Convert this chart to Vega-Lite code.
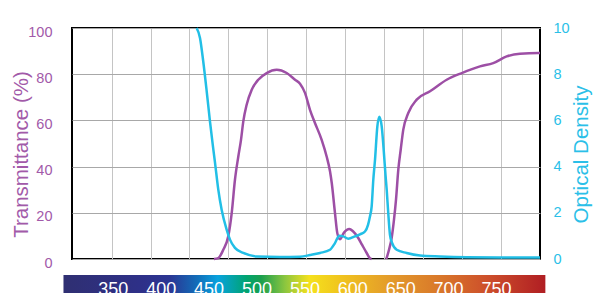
{
  "$schema": "https://vega.github.io/schema/vega-lite/v6.json",
  "width": 468,
  "height": 231,
  "autosize": {"type": "none"},
  "padding": {"left": 72, "top": 28, "right": 66, "bottom": 34},
  "background": "white",
  "config": {
    "view": {"stroke": "#000", "strokeWidth": 2},
    "font": "Liberation Sans"
  },
  "datasets": {
    "trans": [
      {"nm": 455.1, "t": 0, "seg": 1}, {"nm": 459.6, "t": 0.4, "seg": 1}, {"nm": 464.8, "t": 4.0, "seg": 1},
      {"nm": 470.0, "t": 9.8, "seg": 1}, {"nm": 473.6, "t": 19.9, "seg": 1}, {"nm": 477.0, "t": 34.3, "seg": 1},
      {"nm": 480.5, "t": 44.4, "seg": 1}, {"nm": 483.3, "t": 51.6, "seg": 1}, {"nm": 485.7, "t": 59.6, "seg": 1},
      {"nm": 489.2, "t": 66.8, "seg": 1}, {"nm": 494.5, "t": 73.3, "seg": 1}, {"nm": 501.3, "t": 77.6, "seg": 1},
      {"nm": 510.1, "t": 80.5, "seg": 1}, {"nm": 520.6, "t": 81.9, "seg": 1}, {"nm": 531.0, "t": 80.5, "seg": 1},
      {"nm": 539.7, "t": 77.6, "seg": 1}, {"nm": 544.9, "t": 75.9, "seg": 1}, {"nm": 550.1, "t": 71.9, "seg": 1},
      {"nm": 555.3, "t": 64.6, "seg": 1}, {"nm": 560.5, "t": 58.9, "seg": 1}, {"nm": 567.5, "t": 51.6, "seg": 1},
      {"nm": 572.7, "t": 44.4, "seg": 1}, {"nm": 576.2, "t": 38.0, "seg": 1}, {"nm": 578.0, "t": 33.0, "seg": 1},
      {"nm": 581.4, "t": 19.9, "seg": 1}, {"nm": 583.8, "t": 11.3, "seg": 1}, {"nm": 586.6, "t": 8.6, "seg": 1},
      {"nm": 590.8, "t": 11.4, "seg": 1}, {"nm": 596.3, "t": 13.0, "seg": 1}, {"nm": 600.2, "t": 12.0, "seg": 1},
      {"nm": 605.7, "t": 9.1, "seg": 1}, {"nm": 609.6, "t": 6.2, "seg": 1}, {"nm": 614.5, "t": 2.6, "seg": 1},
      {"nm": 617.9, "t": 0.3, "seg": 1}, {"nm": 619.5, "t": 0, "seg": 1},
      {"nm": 635.0, "t": 0, "seg": 2}, {"nm": 637.8, "t": 4.0, "seg": 2}, {"nm": 640.6, "t": 9.2, "seg": 2},
      {"nm": 643.0, "t": 17.0, "seg": 2}, {"nm": 645.1, "t": 25.7, "seg": 2}, {"nm": 647.5, "t": 38.7, "seg": 2},
      {"nm": 650.0, "t": 47.3, "seg": 2}, {"nm": 652.7, "t": 56.0, "seg": 2}, {"nm": 657.9, "t": 63.2, "seg": 2},
      {"nm": 666.7, "t": 69.0, "seg": 2}, {"nm": 680.6, "t": 72.6, "seg": 2}, {"nm": 698.0, "t": 77.6, "seg": 2},
      {"nm": 713.7, "t": 80.5, "seg": 2}, {"nm": 732.8, "t": 83.4, "seg": 2}, {"nm": 746.6, "t": 84.8, "seg": 2},
      {"nm": 760.6, "t": 87.7, "seg": 2}, {"nm": 774.5, "t": 88.9, "seg": 2}, {"nm": 793.8, "t": 89.2, "seg": 2},
      {"nm": 795.4, "t": 89.2, "seg": 2}
    ],
    "od": [
      {"nm": 437.0, "od": 10.0}, {"nm": 440.5, "od": 9.57}, {"nm": 443.9, "od": 8.55}, {"nm": 447.5, "od": 7.26},
      {"nm": 450.9, "od": 5.96}, {"nm": 453.8, "od": 4.95}, {"nm": 456.2, "od": 4.16}, {"nm": 459.6, "od": 3.0},
      {"nm": 463.1, "od": 2.13}, {"nm": 468.4, "od": 1.26}, {"nm": 471.8, "od": 0.84}, {"nm": 477.0, "od": 0.48},
      {"nm": 485.7, "od": 0.26}, {"nm": 499.7, "od": 0.11}, {"nm": 524.0, "od": 0.09}, {"nm": 544.9, "od": 0.10},
      {"nm": 555.3, "od": 0.17}, {"nm": 565.8, "od": 0.26}, {"nm": 576.2, "od": 0.40}, {"nm": 581.4, "od": 0.69},
      {"nm": 585.9, "od": 1.01}, {"nm": 590.1, "od": 0.98}, {"nm": 595.3, "od": 0.88}, {"nm": 602.3, "od": 0.98},
      {"nm": 607.5, "od": 1.07}, {"nm": 612.7, "od": 1.19}, {"nm": 615.9, "od": 1.48}, {"nm": 617.9, "od": 1.84},
      {"nm": 619.7, "od": 2.28}, {"nm": 621.4, "od": 3.43}, {"nm": 623.2, "od": 4.30}, {"nm": 625.6, "od": 5.73},
      {"nm": 627.7, "od": 6.16}, {"nm": 630.2, "od": 5.73}, {"nm": 632.6, "od": 4.52}, {"nm": 634.1, "od": 3.65},
      {"nm": 635.4, "od": 2.99}, {"nm": 637.0, "od": 1.99}, {"nm": 638.8, "od": 1.05}, {"nm": 640.9, "od": 0.71},
      {"nm": 645.8, "od": 0.40}, {"nm": 656.2, "od": 0.26}, {"nm": 670.1, "od": 0.15}, {"nm": 691.0, "od": 0.11},
      {"nm": 718.9, "od": 0.08}, {"nm": 753.6, "od": 0.07}, {"nm": 795.4, "od": 0.07}
    ],
    "strip": [{"start": 298, "end": 801}],
    "labels": [
      {"nm": 350}, {"nm": 400}, {"nm": 450}, {"nm": 500}, {"nm": 550},
      {"nm": 600}, {"nm": 650}, {"nm": 700}, {"nm": 750}
    ]
  },
  "layer": [
    {
      "data": {"name": "strip"},
      "mark": {
        "type": "rect",
        "fill": {
          "gradient": "linear", "x1": 0, "x2": 1, "y1": 0, "y2": 0,
          "stops": [
            {"offset": 0.0, "color": "#2f2f72"},
            {"offset": 0.16, "color": "#2e3088"},
            {"offset": 0.22, "color": "#2b3593"},
            {"offset": 0.28, "color": "#1170bb"},
            {"offset": 0.32, "color": "#08a2de"},
            {"offset": 0.38, "color": "#00a470"},
            {"offset": 0.41, "color": "#1a9f4e"},
            {"offset": 0.46, "color": "#8cc63f"},
            {"offset": 0.51, "color": "#f5e11d"},
            {"offset": 0.58, "color": "#f0c21e"},
            {"offset": 0.68, "color": "#e39a2b"},
            {"offset": 0.78, "color": "#d9782a"},
            {"offset": 0.88, "color": "#cd4f2b"},
            {"offset": 1.0, "color": "#b01e23"}
          ]
        }
      },
      "encoding": {
        "x": {
          "field": "start", "type": "quantitative",
          "scale": {"domain": [306.9, 795.4], "nice": false, "zero": false},
          "axis": {
            "values": [348.3, 388.9, 429.5, 470.1, 510.7, 551.3, 592.0, 632.6, 673.2, 713.8, 754.4],
            "grid": true, "gridColor": "#c4c4c4", "gridWidth": 1,
            "labels": false, "ticks": false, "domain": false, "title": null
          }
        },
        "x2": {"field": "end"},
        "y": {"datum": -6.93, "type": "quantitative", "scale": {"domain": [0, 100], "nice": false}, "axis": null},
        "y2": {"datum": -20}
      }
    },
    {
      "data": {"name": "labels"},
      "mark": {"type": "text", "color": "white", "fontSize": 18, "baseline": "alphabetic", "align": "center", "font": "Liberation Sans"},
      "encoding": {
        "x": {"field": "nm", "type": "quantitative", "scale": {"domain": [306.9, 795.4], "nice": false, "zero": false}},
        "y": {"datum": -15.8, "type": "quantitative", "scale": {"domain": [0, 100], "nice": false}, "axis": null},
        "text": {"field": "nm", "type": "quantitative"}
      }
    },
    {
      "data": {"name": "trans"},
      "mark": {"type": "line", "color": "#9d4fa5", "strokeWidth": 2.5, "interpolate": "monotone"},
      "encoding": {
        "x": {"field": "nm", "type": "quantitative", "scale": {"domain": [306.9, 795.4], "nice": false, "zero": false}},
        "y": {
          "field": "t", "type": "quantitative",
          "scale": {"domain": [0, 100], "nice": false},
          "axis": {
            "orient": "left",
            "values": [0, 20, 40, 60, 80, 100],
            "grid": true, "gridColor": "#a8a8a8", "gridWidth": 1,
            "ticks": false, "tickSize": 0, "domain": false,
            "labelColor": "#a25aa9", "labelFontSize": 14.5, "labelFont": "Liberation Sans",
            "labelPadding": 20, "labelOffset": 4,
            "title": "Transmittance (%)", "titleColor": "#a25aa9", "titleFontSize": 20.5,
            "titleFontWeight": "normal", "titleFont": "Liberation Sans", "titlePadding": -4, "titleY": 126
          }
        },
        "detail": {"field": "seg", "type": "nominal"}
      }
    },
    {
      "data": {"name": "od"},
      "mark": {"type": "line", "color": "#22bfe6", "strokeWidth": 2.5, "interpolate": "monotone"},
      "encoding": {
        "x": {"field": "nm", "type": "quantitative", "scale": {"domain": [306.9, 795.4], "nice": false, "zero": false}},
        "y": {
          "field": "od", "type": "quantitative",
          "scale": {"domain": [0, 10], "nice": false},
          "axis": {
            "orient": "right",
            "values": [0, 2, 4, 6, 8, 10],
            "grid": false, "ticks": false, "tickSize": 0, "domain": false,
            "labelColor": "#2bbfe8", "labelFontSize": 14.5, "labelFont": "Liberation Sans",
            "labelPadding": 13,
            "title": "Optical Density", "titleColor": "#2bbfe8", "titleFontSize": 20.5,
            "titleFontWeight": "normal", "titleFont": "Liberation Sans", "titlePadding": 2,
            "titleAngle": -90, "titleBaseline": "top", "titleY": 126
          }
        }
      }
    }
  ],
  "resolve": {"scale": {"y": "independent"}, "axis": {"y": "independent"}}
}
